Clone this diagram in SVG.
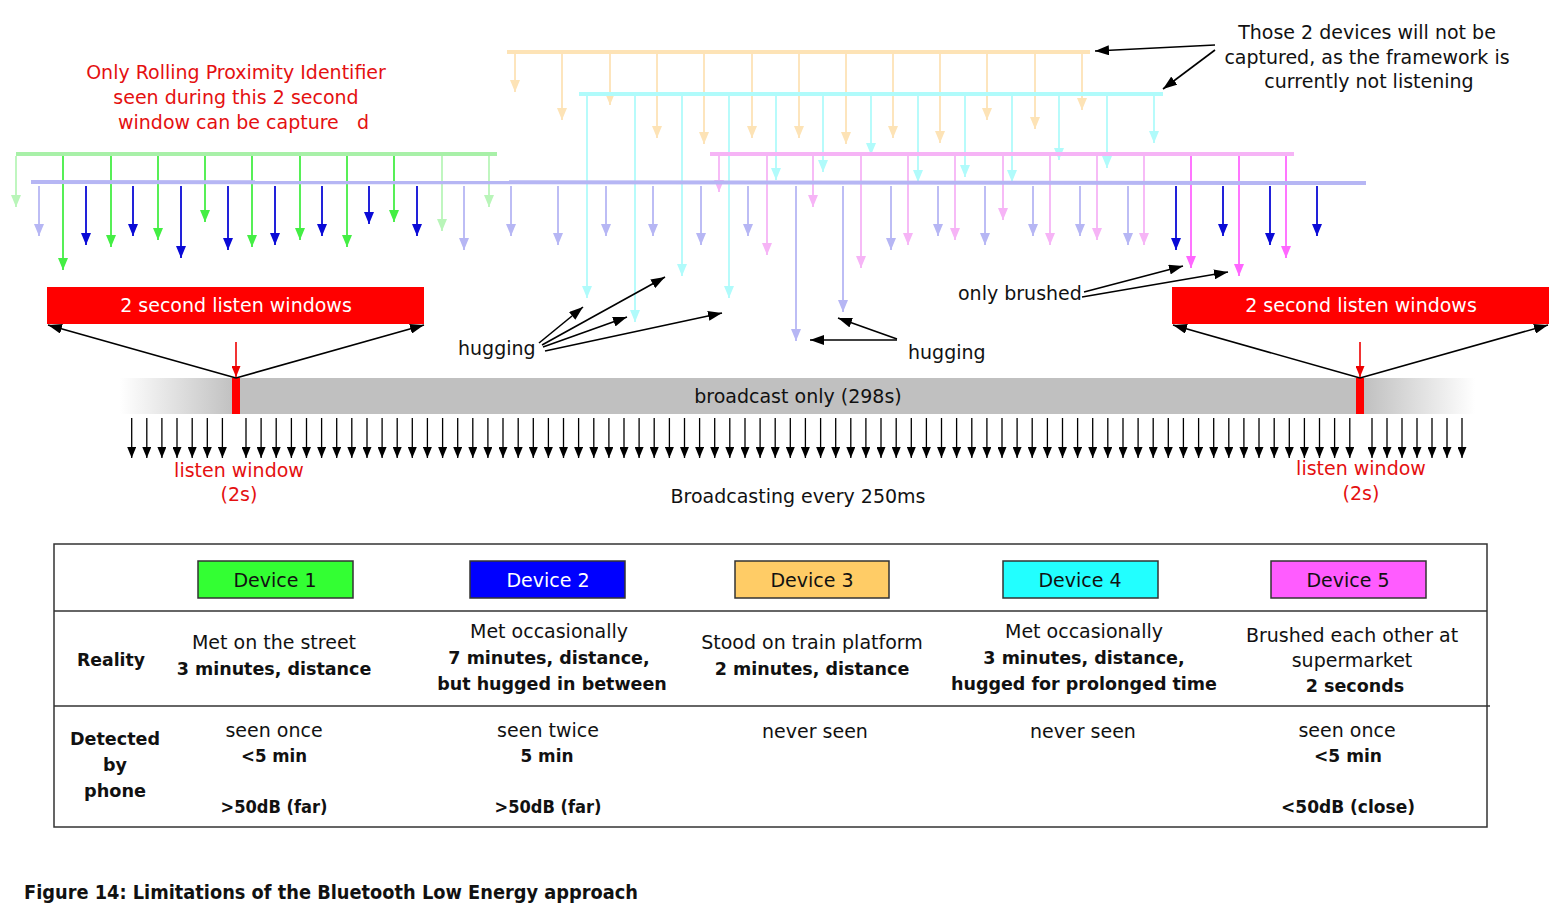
<svg xmlns="http://www.w3.org/2000/svg" width="1565" height="924" viewBox="0 0 1565 924">
<style>
text{font-family:"DejaVu Sans","Liberation Sans",sans-serif;font-size:19px;fill:#111}
.red{fill:#e41010}
.wt{fill:#fff}
.b{font-weight:bold;font-size:17.5px}
.m{text-anchor:middle}
.sig{stroke-width:1.8;fill:none}
.hl{stroke-width:4;fill:none}
.g{stroke:#44ee44;marker-end:url(#mg)}
.gf{stroke:#b9f5b9;marker-end:url(#mgf)}
.bl{stroke:#0a0ad6;marker-end:url(#mb)}
.bf{stroke:#b6b6f4;marker-end:url(#mbf)}
.o{stroke:#fde3b6;marker-end:url(#mo)}
.c{stroke:#b0fbfb;marker-end:url(#mc)}
.p{stroke:#f6b4f6;marker-end:url(#mp)}
.pb{stroke:#ff66ff;marker-end:url(#mpb)}
.ann{stroke:#000;stroke-width:1.6;fill:none;marker-end:url(#ma)}
.tk{stroke:#000;stroke-width:1.3;marker-end:url(#mt)}
.tl{fill:none;stroke:#333;stroke-width:1.5}
.dev{stroke:#333;stroke-width:1.5}
</style>
<defs>
<marker id="mg" markerUnits="userSpaceOnUse" markerWidth="12" markerHeight="10" refX="12" refY="5" orient="auto"><path d="M0,0L12,5L0,10z" fill="#44ee44"/></marker>
<marker id="mgf" markerUnits="userSpaceOnUse" markerWidth="12" markerHeight="10" refX="12" refY="5" orient="auto"><path d="M0,0L12,5L0,10z" fill="#b9f5b9"/></marker>
<marker id="mb" markerUnits="userSpaceOnUse" markerWidth="12" markerHeight="10" refX="12" refY="5" orient="auto"><path d="M0,0L12,5L0,10z" fill="#0a0ad6"/></marker>
<marker id="mbf" markerUnits="userSpaceOnUse" markerWidth="12" markerHeight="10" refX="12" refY="5" orient="auto"><path d="M0,0L12,5L0,10z" fill="#b6b6f4"/></marker>
<marker id="mo" markerUnits="userSpaceOnUse" markerWidth="12" markerHeight="10" refX="12" refY="5" orient="auto"><path d="M0,0L12,5L0,10z" fill="#fde3b6"/></marker>
<marker id="mc" markerUnits="userSpaceOnUse" markerWidth="12" markerHeight="10" refX="12" refY="5" orient="auto"><path d="M0,0L12,5L0,10z" fill="#b0fbfb"/></marker>
<marker id="mp" markerUnits="userSpaceOnUse" markerWidth="12" markerHeight="10" refX="12" refY="5" orient="auto"><path d="M0,0L12,5L0,10z" fill="#f6b4f6"/></marker>
<marker id="mpb" markerUnits="userSpaceOnUse" markerWidth="12" markerHeight="10" refX="12" refY="5" orient="auto"><path d="M0,0L12,5L0,10z" fill="#ff66ff"/></marker>
<marker id="ma" markerUnits="userSpaceOnUse" markerWidth="14" markerHeight="10" refX="14" refY="5" orient="auto"><path d="M0,0L14,5L0,10z" fill="#000"/></marker>
<marker id="mt" markerUnits="userSpaceOnUse" markerWidth="11" markerHeight="9" refX="11" refY="4.5" orient="auto"><path d="M0,0L11,4.5L0,9z" fill="#000"/></marker>
<marker id="mr" markerUnits="userSpaceOnUse" markerWidth="11" markerHeight="9" refX="11" refY="4.5" orient="auto"><path d="M0,0L11,4.5L0,9z" fill="#ee0000"/></marker>
<linearGradient id="bar" gradientUnits="userSpaceOnUse" x1="120" y1="0" x2="1475" y2="0">
<stop offset="0" stop-color="#c0c0c0" stop-opacity="0"/>
<stop offset="0.085" stop-color="#c0c0c0"/>
<stop offset="0.918" stop-color="#c0c0c0"/>
<stop offset="1" stop-color="#c0c0c0" stop-opacity="0"/>
</linearGradient>
</defs>

<g id="device3-signals">
<line class="hl" x1="507" y1="52" x2="1090" y2="52" stroke="#fde3b6"/>
<g class="sig o">
<line x1="515" y1="52" x2="515" y2="92"/><line x1="562" y1="52" x2="562" y2="120"/><line x1="610" y1="52" x2="610" y2="105"/><line x1="657" y1="52" x2="657" y2="138"/><line x1="704" y1="52" x2="704" y2="144"/><line x1="752" y1="52" x2="752" y2="138"/><line x1="799" y1="52" x2="799" y2="138"/><line x1="846" y1="52" x2="846" y2="144"/><line x1="893" y1="52" x2="893" y2="138"/><line x1="940" y1="52" x2="940" y2="143"/><line x1="987" y1="52" x2="987" y2="120"/><line x1="1035" y1="52" x2="1035" y2="129"/><line x1="1082" y1="52" x2="1082" y2="110"/>
</g>
</g>

<g id="device4-signals">
<line class="hl" x1="579" y1="94" x2="1163" y2="94" stroke="#b0fbfb"/>
<g class="sig c">
<line x1="587" y1="96" x2="587" y2="298"/><line x1="635" y1="96" x2="635" y2="322"/><line x1="682" y1="96" x2="682" y2="276"/><line x1="729" y1="96" x2="729" y2="298"/><line x1="776" y1="96" x2="776" y2="180"/><line x1="823" y1="96" x2="823" y2="172"/><line x1="871" y1="96" x2="871" y2="155"/><line x1="918" y1="96" x2="918" y2="182"/><line x1="965" y1="96" x2="965" y2="177"/><line x1="1012" y1="96" x2="1012" y2="182"/><line x1="1059" y1="96" x2="1059" y2="160"/><line x1="1107" y1="96" x2="1107" y2="168"/><line x1="1154" y1="96" x2="1154" y2="143"/>
</g>
</g>

<g id="device5-signals">
<line class="hl" x1="710" y1="154" x2="1294" y2="154" stroke="#f6b4f6"/>
<g class="sig">
<line class="p" x1="719" y1="156" x2="719" y2="192"/><line class="p" x1="767" y1="156" x2="767" y2="255"/><line class="p" x1="813" y1="156" x2="813" y2="207"/><line class="p" x1="861" y1="156" x2="861" y2="268"/><line class="p" x1="908" y1="156" x2="908" y2="245"/><line class="p" x1="955" y1="156" x2="955" y2="240"/><line class="p" x1="1003" y1="156" x2="1003" y2="220"/><line class="p" x1="1050" y1="156" x2="1050" y2="245"/><line class="p" x1="1097" y1="156" x2="1097" y2="240"/><line class="p" x1="1144" y1="156" x2="1144" y2="245"/>
<line class="pb" x1="1191" y1="156" x2="1191" y2="268"/><line class="pb" x1="1239" y1="156" x2="1239" y2="276"/><line class="pb" x1="1286" y1="156" x2="1286" y2="258"/>
</g>
</g>

<g id="device1-signals">
<line class="hl" x1="16" y1="154" x2="497" y2="154" stroke="#a8f0a8"/>
<g class="sig">
<line class="gf" x1="16" y1="156" x2="16" y2="207"/><line class="g" x1="63" y1="156" x2="63" y2="270"/><line class="g" x1="111" y1="156" x2="111" y2="247"/><line class="g" x1="158" y1="156" x2="158" y2="240"/><line class="g" x1="205" y1="156" x2="205" y2="222"/><line class="g" x1="252" y1="156" x2="252" y2="247"/><line class="g" x1="300" y1="156" x2="300" y2="240"/><line class="g" x1="347" y1="156" x2="347" y2="247"/><line class="g" x1="394" y1="156" x2="394" y2="222"/><line class="gf" x1="442" y1="156" x2="442" y2="231"/><line class="gf" x1="489" y1="156" x2="489" y2="207"/>
</g>
</g>

<g id="device2-signals">
<line class="hl" x1="31" y1="182" x2="1366" y2="183" stroke="#b6b6f4"/>
<g class="sig">
<line class="bf" x1="39" y1="186" x2="39" y2="236"/><line class="bl" x1="86" y1="186" x2="86" y2="245"/><line class="bl" x1="133" y1="186" x2="133" y2="236"/><line class="bl" x1="181" y1="186" x2="181" y2="258"/><line class="bl" x1="228" y1="186" x2="228" y2="250"/><line class="bl" x1="275" y1="186" x2="275" y2="245"/><line class="bl" x1="322" y1="186" x2="322" y2="236"/><line class="bl" x1="369" y1="186" x2="369" y2="224"/><line class="bl" x1="417" y1="186" x2="417" y2="236"/>
<line class="bf" x1="464" y1="186" x2="464" y2="250"/><line class="bf" x1="511" y1="186" x2="511" y2="236"/><line class="bf" x1="558" y1="186" x2="558" y2="245"/><line class="bf" x1="606" y1="186" x2="606" y2="236"/><line class="bf" x1="653" y1="186" x2="653" y2="236"/><line class="bf" x1="701" y1="186" x2="701" y2="245"/><line class="bf" x1="748" y1="186" x2="748" y2="236"/><line class="bf" x1="796" y1="186" x2="796" y2="341"/><line class="bf" x1="843" y1="186" x2="843" y2="312"/><line class="bf" x1="891" y1="186" x2="891" y2="250"/><line class="bf" x1="938" y1="186" x2="938" y2="236"/><line class="bf" x1="985" y1="186" x2="985" y2="245"/><line class="bf" x1="1033" y1="186" x2="1033" y2="236"/><line class="bf" x1="1080" y1="186" x2="1080" y2="236"/><line class="bf" x1="1128" y1="186" x2="1128" y2="245"/>
<line class="bl" x1="1176" y1="186" x2="1176" y2="250"/><line class="bl" x1="1223" y1="186" x2="1223" y2="236"/><line class="bl" x1="1270" y1="186" x2="1270" y2="245"/><line class="bl" x1="1317" y1="186" x2="1317" y2="236"/>
</g>
</g>

<g id="note-rpi">
<text class="red m" x="236" y="79">Only Rolling Proximity Identifier</text>
<text class="red m" x="236" y="104">seen during this 2 second</text>
<text class="red" x="118" y="129" xml:space="preserve">window can be capture   d</text>
</g>

<g id="note-not-captured">
<text class="m" x="1367" y="39">Those 2 devices will not be</text>
<text class="m" x="1367" y="64">captured, as the framework is</text>
<text class="m" x="1369" y="88">currently not listening</text>
</g>

<g id="listen-box-left">
<rect x="47" y="287" width="377" height="37" fill="#ff0000"/>
<text class="wt m" x="236" y="312">2 second listen windows</text>
</g>
<g id="listen-box-right">
<rect x="1172" y="287" width="377" height="37" fill="#ff0000"/>
<text class="wt m" x="1361" y="312">2 second listen windows</text>
</g>

<g id="label-hugging-left"><text x="458" y="355">hugging</text></g>
<g id="label-hugging-right"><text x="908" y="359">hugging</text></g>
<g id="label-brushed"><text x="958" y="300">only brushed</text></g>

<g id="broadcast-bar">
<rect x="120" y="378" width="1355" height="36" fill="url(#bar)"/>
<rect x="232" y="378" width="8" height="36" fill="#ff0000"/>
<rect x="1356" y="378" width="8" height="36" fill="#ff0000"/>
<text class="m" x="798" y="403">broadcast only (298s)</text>
</g>

<g id="connectors">
<line class="ann" x1="1215" y1="45" x2="1095" y2="51"/>
<line class="ann" x1="1215" y1="50" x2="1163" y2="89"/>
<line class="ann" x1="539" y1="343" x2="583" y2="307"/>
<line class="ann" x1="542" y1="345" x2="665" y2="277"/>
<line class="ann" x1="543" y1="347" x2="627" y2="317"/>
<line class="ann" x1="545" y1="351" x2="722" y2="313"/>
<line class="ann" x1="897" y1="340" x2="810" y2="340"/>
<line class="ann" x1="897" y1="339" x2="838" y2="318"/>
<line class="ann" x1="1084" y1="292" x2="1183" y2="266"/>
<line class="ann" x1="1082" y1="297" x2="1228" y2="272"/>
<line class="ann" x1="236" y1="378" x2="48" y2="325"/>
<line class="ann" x1="236" y1="378" x2="424" y2="325"/>
<line class="ann" x1="1360" y1="378" x2="1173" y2="325"/>
<line class="ann" x1="1360" y1="378" x2="1548" y2="325"/>
<line x1="236" y1="342" x2="236" y2="377" stroke="#ee0000" stroke-width="1.6" marker-end="url(#mr)"/>
<line x1="1360" y1="342" x2="1360" y2="377" stroke="#ee0000" stroke-width="1.6" marker-end="url(#mr)"/>
</g>

<g id="broadcast-ticks" class="tk">
<line x1="131.7" y1="418" x2="131.7" y2="458"/><line x1="146.8" y1="418" x2="146.8" y2="458"/><line x1="161.9" y1="418" x2="161.9" y2="458"/><line x1="177" y1="418" x2="177" y2="458"/><line x1="192.2" y1="418" x2="192.2" y2="458"/><line x1="207.3" y1="418" x2="207.3" y2="458"/><line x1="222.4" y1="418" x2="222.4" y2="458"/>
<line x1="246" y1="418" x2="246" y2="458"/><line x1="261.1" y1="418" x2="261.1" y2="458"/><line x1="276.2" y1="418" x2="276.2" y2="458"/><line x1="291.4" y1="418" x2="291.4" y2="458"/><line x1="306.5" y1="418" x2="306.5" y2="458"/><line x1="321.6" y1="418" x2="321.6" y2="458"/><line x1="336.7" y1="418" x2="336.7" y2="458"/><line x1="351.8" y1="418" x2="351.8" y2="458"/><line x1="367" y1="418" x2="367" y2="458"/><line x1="382.1" y1="418" x2="382.1" y2="458"/><line x1="397.2" y1="418" x2="397.2" y2="458"/><line x1="412.3" y1="418" x2="412.3" y2="458"/><line x1="427.4" y1="418" x2="427.4" y2="458"/><line x1="442.6" y1="418" x2="442.6" y2="458"/><line x1="457.7" y1="418" x2="457.7" y2="458"/><line x1="472.8" y1="418" x2="472.8" y2="458"/><line x1="487.9" y1="418" x2="487.9" y2="458"/><line x1="503" y1="418" x2="503" y2="458"/><line x1="518.2" y1="418" x2="518.2" y2="458"/><line x1="533.3" y1="418" x2="533.3" y2="458"/><line x1="548.4" y1="418" x2="548.4" y2="458"/><line x1="563.5" y1="418" x2="563.5" y2="458"/><line x1="578.6" y1="418" x2="578.6" y2="458"/><line x1="593.8" y1="418" x2="593.8" y2="458"/><line x1="608.9" y1="418" x2="608.9" y2="458"/><line x1="624" y1="418" x2="624" y2="458"/><line x1="639.1" y1="418" x2="639.1" y2="458"/><line x1="654.2" y1="418" x2="654.2" y2="458"/><line x1="669.4" y1="418" x2="669.4" y2="458"/><line x1="684.5" y1="418" x2="684.5" y2="458"/><line x1="699.6" y1="418" x2="699.6" y2="458"/><line x1="714.7" y1="418" x2="714.7" y2="458"/><line x1="729.8" y1="418" x2="729.8" y2="458"/><line x1="745" y1="418" x2="745" y2="458"/><line x1="760.1" y1="418" x2="760.1" y2="458"/><line x1="775.2" y1="418" x2="775.2" y2="458"/><line x1="790.3" y1="418" x2="790.3" y2="458"/><line x1="805.4" y1="418" x2="805.4" y2="458"/><line x1="820.6" y1="418" x2="820.6" y2="458"/><line x1="835.7" y1="418" x2="835.7" y2="458"/><line x1="850.8" y1="418" x2="850.8" y2="458"/><line x1="865.9" y1="418" x2="865.9" y2="458"/><line x1="881" y1="418" x2="881" y2="458"/><line x1="896.2" y1="418" x2="896.2" y2="458"/><line x1="911.3" y1="418" x2="911.3" y2="458"/><line x1="926.4" y1="418" x2="926.4" y2="458"/><line x1="941.5" y1="418" x2="941.5" y2="458"/><line x1="956.6" y1="418" x2="956.6" y2="458"/><line x1="971.8" y1="418" x2="971.8" y2="458"/><line x1="986.9" y1="418" x2="986.9" y2="458"/><line x1="1002" y1="418" x2="1002" y2="458"/><line x1="1017.1" y1="418" x2="1017.1" y2="458"/><line x1="1032.2" y1="418" x2="1032.2" y2="458"/><line x1="1047.4" y1="418" x2="1047.4" y2="458"/><line x1="1062.5" y1="418" x2="1062.5" y2="458"/><line x1="1077.6" y1="418" x2="1077.6" y2="458"/><line x1="1092.7" y1="418" x2="1092.7" y2="458"/><line x1="1107.8" y1="418" x2="1107.8" y2="458"/><line x1="1123" y1="418" x2="1123" y2="458"/><line x1="1138.1" y1="418" x2="1138.1" y2="458"/><line x1="1153.2" y1="418" x2="1153.2" y2="458"/><line x1="1168.3" y1="418" x2="1168.3" y2="458"/><line x1="1183.4" y1="418" x2="1183.4" y2="458"/><line x1="1198.6" y1="418" x2="1198.6" y2="458"/><line x1="1213.7" y1="418" x2="1213.7" y2="458"/><line x1="1228.8" y1="418" x2="1228.8" y2="458"/><line x1="1243.9" y1="418" x2="1243.9" y2="458"/><line x1="1259" y1="418" x2="1259" y2="458"/><line x1="1274.2" y1="418" x2="1274.2" y2="458"/><line x1="1289.3" y1="418" x2="1289.3" y2="458"/><line x1="1304.4" y1="418" x2="1304.4" y2="458"/><line x1="1319.5" y1="418" x2="1319.5" y2="458"/><line x1="1334.6" y1="418" x2="1334.6" y2="458"/><line x1="1349.8" y1="418" x2="1349.8" y2="458"/>
<line x1="1372" y1="418" x2="1372" y2="458"/><line x1="1387" y1="418" x2="1387" y2="458"/><line x1="1402" y1="418" x2="1402" y2="458"/><line x1="1417" y1="418" x2="1417" y2="458"/><line x1="1432" y1="418" x2="1432" y2="458"/><line x1="1447" y1="418" x2="1447" y2="458"/><line x1="1462" y1="418" x2="1462" y2="458"/>
</g>

<g id="listen-labels">
<text class="red m" x="239" y="477">listen window</text>
<text class="red m" x="239" y="501">(2s)</text>
<text class="red m" x="1361" y="475">listen window</text>
<text class="red m" x="1361" y="500">(2s)</text>
<text class="m" x="798" y="503">Broadcasting every 250ms</text>
</g>

<g id="table">
<rect class="tl" x="54" y="544" width="1433" height="283"/>
<line class="tl" x1="54" y1="611" x2="1487" y2="611"/>
<line class="tl" x1="54" y1="706" x2="1490" y2="706"/>
<text class="b m" x="111" y="666" textLength="68" lengthAdjust="spacingAndGlyphs">Reality</text>
<text class="b m" x="115" y="745" textLength="90" lengthAdjust="spacingAndGlyphs">Detected</text>
<text class="b m" x="115" y="771">by</text>
<text class="b m" x="115" y="797" textLength="62" lengthAdjust="spacingAndGlyphs">phone</text>
</g>

<g id="device1">
<rect class="dev" x="198" y="561" width="155" height="37" fill="#33ff33"/>
<text class="m" x="275" y="587">Device 1</text>
<text class="m" x="274" y="649">Met on the street</text>
<text class="b m" x="274" y="675">3 minutes, distance</text>
<text class="m" x="274" y="737">seen once</text>
<text class="b m" x="274" y="762" textLength="66" lengthAdjust="spacingAndGlyphs">&lt;5 min</text>
<text class="b m" x="274" y="813" textLength="107" lengthAdjust="spacingAndGlyphs">&gt;50dB (far)</text>
</g>

<g id="device2">
<rect class="dev" x="470" y="561" width="155" height="37" fill="#0000ff"/>
<text class="wt m" x="548" y="587">Device 2</text>
<text class="m" x="549" y="638">Met occasionally</text>
<text class="b m" x="549" y="664">7 minutes, distance,</text>
<text class="b m" x="552" y="690">but hugged in between</text>
<text class="m" x="548" y="737">seen twice</text>
<text class="b m" x="547" y="762" textLength="53" lengthAdjust="spacingAndGlyphs">5 min</text>
<text class="b m" x="548" y="813" textLength="107" lengthAdjust="spacingAndGlyphs">&gt;50dB (far)</text>
</g>

<g id="device3">
<rect class="dev" x="735" y="561" width="154" height="37" fill="#ffcc66"/>
<text class="m" x="812" y="587">Device 3</text>
<text class="m" x="812" y="649">Stood on train platform</text>
<text class="b m" x="812" y="675">2 minutes, distance</text>
<text class="m" x="815" y="738">never seen</text>
</g>

<g id="device4">
<rect class="dev" x="1003" y="561" width="155" height="37" fill="#22ffff"/>
<text class="m" x="1080" y="587">Device 4</text>
<text class="m" x="1084" y="638">Met occasionally</text>
<text class="b m" x="1084" y="664">3 minutes, distance,</text>
<text class="b m" x="1084" y="690">hugged for prolonged time</text>
<text class="m" x="1083" y="738">never seen</text>
</g>

<g id="device5">
<rect class="dev" x="1271" y="561" width="155" height="37" fill="#ff5cff"/>
<text class="m" x="1348" y="587">Device 5</text>
<text class="m" x="1352" y="642">Brushed each other at</text>
<text class="m" x="1352" y="667">supermarket</text>
<text class="b m" x="1355" y="692">2 seconds</text>
<text class="m" x="1347" y="737">seen once</text>
<text class="b m" x="1348" y="762" textLength="68" lengthAdjust="spacingAndGlyphs">&lt;5 min</text>
<text class="b m" x="1348" y="813" textLength="134" lengthAdjust="spacingAndGlyphs">&lt;50dB (close)</text>
</g>

<g id="caption">
<text class="b" x="24" y="899" style="font-size:19px" textLength="614" lengthAdjust="spacingAndGlyphs">Figure 14: Limitations of the Bluetooth Low Energy approach</text>
</g>
</svg>
